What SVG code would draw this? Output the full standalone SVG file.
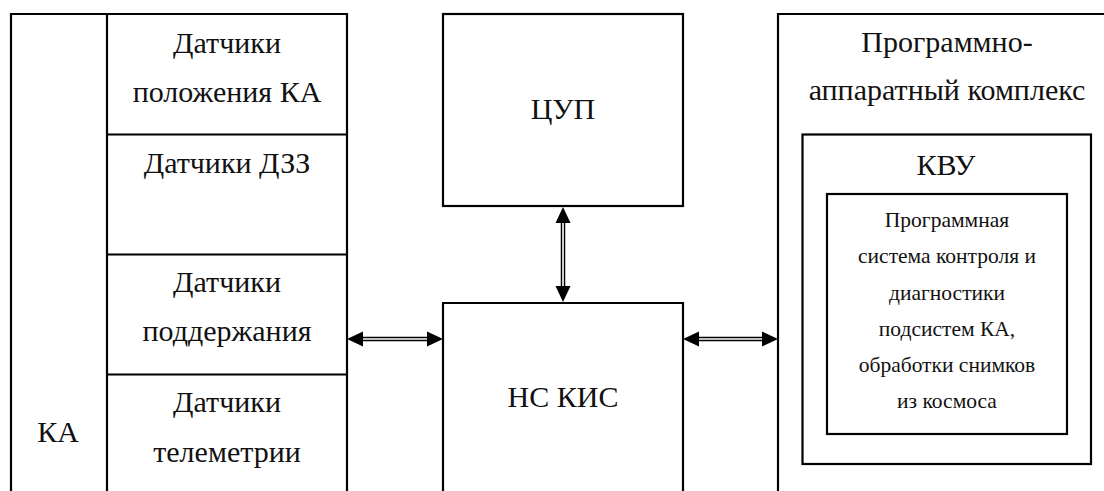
<svg xmlns="http://www.w3.org/2000/svg" width="1104" height="491" viewBox="0 0 1104 491">
<style>
.box{fill:none;stroke:#000;stroke-width:2.2}
.t{font-family:"Liberation Serif","Times New Roman",serif;font-size:30px;fill:#111;text-anchor:middle}
.s{font-family:"Liberation Serif","Times New Roman",serif;font-size:21.5px;fill:#111;text-anchor:middle}
.shaft{stroke:#000;stroke-width:4.5;fill:none}
.gap{stroke:#fff;stroke-width:1.6;fill:none}
.head{fill:#000}
</style>
<rect width="1104" height="491" fill="#fff"/>
<g id="ka">
  <path class="box" d="M11,495 V14 H347 V495"/>
  <line class="box" x1="107" y1="14" x2="107" y2="495"/>
  <text class="t" x="58" y="442">КА</text>
</g>
<g id="sensor-position">
  <line class="box" x1="107" y1="134.5" x2="347" y2="134.5"/>
  <text class="t" x="227" y="53">Датчики</text>
  <text class="t" x="227" y="102">положения КА</text>
</g>
<g id="sensor-dzz">
  <line class="box" x1="107" y1="254.5" x2="347" y2="254.5"/>
  <text class="t" x="227" y="173">Датчики ДЗЗ</text>
</g>
<g id="sensor-support">
  <line class="box" x1="107" y1="374.5" x2="347" y2="374.5"/>
  <text class="t" x="227" y="292">Датчики</text>
  <text class="t" x="227" y="341">поддержания</text>
</g>
<g id="sensor-telemetry">
  <text class="t" x="227" y="412">Датчики</text>
  <text class="t" x="227" y="462">телеметрии</text>
</g>
<g id="cup">
  <rect class="box" x="443" y="14" width="240" height="192"/>
  <text class="t" x="563" y="119">ЦУП</text>
</g>
<g id="ns-kis">
  <path class="box" d="M443,495 V303 H683 V495"/>
  <text class="t" x="563" y="407">НС КИС</text>
</g>
<g id="pak">
  <path class="box" d="M778,495 V14 H1120"/>
  <text class="t" x="947" y="52">Программно-</text>
  <text class="t" x="947" y="100">аппаратный комплекс</text>
</g>
<g id="kvu">
  <rect class="box" x="802.5" y="134.5" width="288.5" height="329.5"/>
  <text class="t" x="946" y="175">КВУ</text>
</g>
<g id="software">
  <rect class="box" x="827" y="194" width="240" height="240"/>
  <text class="s" x="947" y="227">Программная</text>
  <text class="s" x="947" y="263">система контроля и</text>
  <text class="s" x="947" y="299.5">диагностики</text>
  <text class="s" x="947" y="336">подсистем КА,</text>
  <text class="s" x="947" y="372">обработки снимков</text>
  <text class="s" x="947" y="408">из космоса</text>
</g>
<g id="connectors">
  <line class="shaft" x1="563" y1="220" x2="563" y2="289"/>
  <line class="gap" x1="563" y1="220" x2="563" y2="289"/>
  <polygon class="head" points="563,207 555.5,223 570.5,223"/>
  <polygon class="head" points="563,302 555.5,286 570.5,286"/>
  <line class="shaft" x1="360" y1="339" x2="430" y2="339"/>
  <line class="gap" x1="360" y1="339" x2="430" y2="339"/>
  <polygon class="head" points="347,339 363,331.5 363,346.5"/>
  <polygon class="head" points="443,339 427,331.5 427,346.5"/>
  <line class="shaft" x1="696" y1="339" x2="765" y2="339"/>
  <line class="gap" x1="696" y1="339" x2="765" y2="339"/>
  <polygon class="head" points="683,339 699,331.5 699,346.5"/>
  <polygon class="head" points="778,339 762,331.5 762,346.5"/>
</g>
</svg>
